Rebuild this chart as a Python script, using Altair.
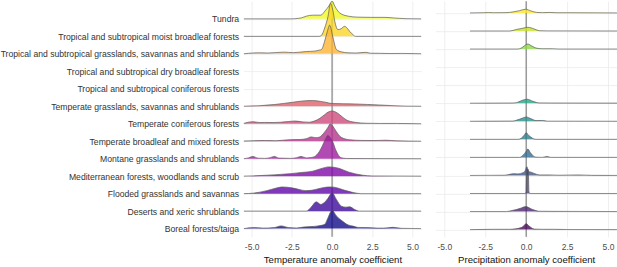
import altair as alt
import pandas as pd

# Row labels, top to bottom
categories = [
    "Tundra",
    "Tropical and subtropical moist broadleaf forests",
    "Tropical and subtropical grasslands, savannas and shrublands",
    "Tropical and subtropical dry broadleaf forests",
    "Tropical and subtropical coniferous forests",
    "Temperate grasslands, savannas and shrublands",
    "Temperate coniferous forests",
    "Temperate broadleaf and mixed forests",
    "Montane grasslands and shrublands",
    "Mediterranean forests, woodlands and scrub",
    "Flooded grasslands and savannas",
    "Deserts and xeric shrublands",
    "Boreal forests/taiga",
]

# plasma(13) / viridis(13), top row = last colour
plasma_cols = ["#F0F921", "#FBD524", "#FDB42F", "#F89540", "#ED7953", "#DE5F65", "#CC4778",
               "#B52F8C", "#9C179E", "#7E03A8", "#5C01A6", "#3A049A", "#0D0887"]
viridis_cols = ["#FDE725", "#C7E020", "#8FD744", "#5DC863", "#35B779", "#20A486", "#21908C",
                "#287C8E", "#31688E", "#3B528B", "#443A83", "#481F70", "#440154"]

# Temperature anomaly coefficient: ridge profiles (x, density height)
temp_tundra_x = [-5.5, -2.6, -2.1, -1.9, -1.6, -1.2, -0.7, -0.45, -0.15, 0.0, 0.17, 0.47, 1.0, 1.6, 2.4, 3.3, 3.9, 4.6, 5.55]
temp_tundra_d = [0, 0, 0.5, 1, 2.7, 3.7, 3.7, 7.7, 14, 18, 12.7, 6, 2.7, 1.7, 1.5, 1.5, 0.8, 0.2, 0]
temp_moist_x = [-5.5, -0.8, -0.66, -0.46, -0.25, -0.1, 0.05, 0.17, 0.37, 0.55, 0.78, 0.95, 1.09, 1.3, 1.45, 5.55]
temp_moist_d = [0, 0, 1, 8.3, 20, 33, 26, 15, 6.7, 7.5, 10, 8, 5, 1.7, 0, 0]
temp_tgrass_x = [-5.5, -5.2, -4.6, -4.0, -3.0, -2.4, -1.6, -1.1, -0.8, -0.66, -0.46, -0.3, -0.15, 0.06, 0.27, 0.58, 1.0, 1.5, 2.1, 2.4, 3.0, 3.6, 4.4, 5.55]
temp_tgrass_d = [0, 0.5, 1, 0.8, 1.7, 1.2, 2.3, 2.7, 3.7, 4.3, 12.7, 22, 28.7, 16, 4.3, 2, 1, 0.8, 1.5, 0.6, 0.5, 0.3, 0.4, 0.1]
temp_mgrass_x = [-5.5, -4.5, -3.6, -2.45, -1.8, -1.2, -0.7, -0.4, 0.0, 0.7, 1.4, 2.2, 2.9, 3.8, 4.6, 5.55]
temp_mgrass_d = [0, 0.6, 1.7, 4, 5.3, 5.7, 4.8, 4, 2.7, 2.5, 2.3, 1.8, 1.3, 0.6, 0.1, 0]
temp_mconif_x = [-5.5, -4.93, -4.5, -4.2, -3.6, -3.2, -2.7, -2.3, -1.8, -1.4, -1.1, -0.75, -0.47, -0.2, 0.04, 0.25, 0.45, 0.87, 1.4, 2.1, 3.0, 4.0, 5.55]
temp_mconif_d = [0.3, 2, 1.2, 1.3, 1.2, 1.5, 2.2, 2.7, 1.8, 1.5, 2.7, 5.5, 9, 12, 12.7, 11.5, 9.3, 4, 1.5, 0.5, 0.3, 0.3, 0]
temp_broad_x = [-5.5, -4.2, -3.5, -2.65, -2.0, -1.6, -1.3, -1.0, -0.8, -0.47, -0.25, -0.12, 0.05, 0.25, 0.56, 1.07, 1.8, 2.6, 3.35, 4.0, 5.55]
temp_broad_d = [0.2, 0.7, 0.5, 1.5, 1.7, 2.5, 4.3, 3.5, 4, 9, 14, 17.3, 15, 10, 4, 1.5, 0.8, 0.7, 1, 0.4, 0]
temp_montane_x = [-5.5, -5.2, -4.93, -4.6, -4.2, -3.85, -3.59, -3.3, -2.6, -2.2, -1.93, -1.6, -1.3, -1.1, -0.8, -0.6, -0.4, -0.27, -0.1, 0.04, 0.25, 0.56, 0.9, 5.55]
temp_montane_d = [0, 0.8, 2.3, 0.5, 0.3, 1, 2.3, 0.6, 0.3, 1, 2.3, 0.8, 1.2, 2, 7, 13, 20, 23.3, 21, 17, 8, 1, 0.2, 0]
temp_med_x = [-5.5, -4.9, -4.0, -3.2, -2.6, -1.9, -1.2, -0.7, -0.2, 0.4, 1.05, 1.9, 2.5, 5.55]
temp_med_d = [0, 0.3, 1, 1.8, 2.5, 3.7, 5, 7.5, 9.3, 8, 4, 1, 0.2, 0]
temp_flood_x = [-5.5, -4.9, -4.06, -3.5, -3.1, -2.5, -2.0, -1.65, -1.3, -0.7, -0.2, 0.1, 0.8, 1.3, 1.8, 5.55]
temp_flood_d = [0, 0.5, 3, 5.5, 6.7, 5.8, 4, 3, 3.3, 5.5, 6.7, 6.5, 3.3, 1.2, 0, 0]
temp_desert_x = [-5.5, -1.6, -1.3, -0.98, -0.7, -0.5, -0.25, 0.0, 0.27, 0.58, 0.85, 1.1, 1.4, 1.7, 5.55]
temp_desert_d = [0, 0, 4, 9.3, 6.7, 8.3, 13, 18.3, 11.7, 5, 4, 4.3, 1.7, 0, 0]
temp_boreal_x = [-5.5, -4.83, -4.3, -3.6, -3.17, -2.7, -2.2, -1.8, -1.3, -0.87, -0.46, -0.25, 0.0, 0.27, 0.58, 1.0, 1.3, 1.6, 2.2, 2.8, 3.2, 3.8, 4.3, 5.55]
temp_boreal_d = [0, 1, 0.5, 1, 2.7, 1, 0.6, 1.5, 2, 2.7, 4.3, 11, 18.3, 12.7, 8.3, 3.7, 2.5, 1.2, 1, 0.5, 0.5, 1.3, 0.3, 0]

# Precipitation anomaly coefficient: ridge profiles
prec_tundra_x = [-3.43, -2.6, -2.3, -2.0, -1.23, -0.8, -0.4, -0.04, 0.3, 0.65, 1.0, 1.45, 1.9, 2.5, 5.55]
prec_tundra_d = [0, 0.2, 0.4, 0.2, 0.3, 1, 2.3, 3.7, 2, 0.5, 0.3, 0.5, 0.2, 0.2, 0]
prec_moist_x = [-3.43, -1.0, -0.6, -0.2, 0.1, 0.5, 0.8, 1.3, 5.55]
prec_moist_d = [0, 0, 1.5, 2.8, 3.7, 2, 0.3, 0.1, 0]
prec_tgrass_x = [-3.43, -0.5, -0.3, 0.1, 0.35, 0.6, 1.0, 1.6, 2.0, 5.55]
prec_tgrass_d = [0, 0, 1, 5, 3, 1, 0.3, 0.3, 0, 0]
prec_mgrass_x = [-3.43, -0.8, -0.6, -0.3, 0.06, 0.4, 0.8, 1.5, 5.55]
prec_mgrass_d = [0, 0.2, 0.5, 2.5, 4, 2, 0.3, 0.2, 0.1]
prec_mconif_x = [-3.43, -0.8, -0.6, -0.25, 0.0, 0.3, 0.6, 1.0, 1.3, 5.55]
prec_mconif_d = [0, 0.2, 1, 3, 4.3, 2.5, 0.7, 0.8, 0.1, 0]
prec_broad_x = [-3.43, -0.5, -0.3, -0.1, 0.0, 0.15, 0.3, 0.6, 5.55]
prec_broad_d = [0, 0, 1, 4.5, 6.7, 4, 2, 0, 0]
prec_montane_x = [-3.43, -0.4, -0.2, 0.0, 0.1, 0.25, 0.4, 0.6, 1.0, 1.27, 1.5, 5.55]
prec_montane_d = [0, 0, 2, 6, 8.3, 5, 2, 0.2, 0, 1, 0, 0]
prec_med_x = [-3.43, -1.3, -0.8, -0.5, -0.2, -0.05, 0.04, 0.15, 0.3, 0.5, 0.8, 1.4, 2.0, 3.2, 4.0, 5.55]
prec_med_d = [0, 0.2, 1.7, 1.5, 2.7, 5, 8.7, 4, 3.3, 2, 0.5, 0.5, 0.2, 0.5, 0.1, 0]
prec_flood_x = [-3.43, -0.05, 0.0, 0.04, 0.13, 0.17, 0.22, 5.55]
prec_flood_d = [0, 0, 2, 24, 24, 2, 0, 0]
prec_desert_x = [-3.43, -1.2, -1.0, -0.6, -0.3, -0.04, 0.4, 0.8, 1.5, 5.55]
prec_desert_d = [0, 0, 0.5, 2, 3.5, 5, 2, 0.3, 0.2, 0]
prec_boreal_x = [-3.43, -2.0, -1.0, -0.3, -0.1, 0.0, 0.15, 0.3, 0.5, 1.0, 1.7, 2.5, 5.55]
prec_boreal_d = [0, 0.3, 0.3, 2, 4.5, 6, 4, 2, 0.5, 0.3, 0.3, 0.1, 0]

temp_rows = {
    0: (temp_tundra_x, temp_tundra_d), 1: (temp_moist_x, temp_moist_d), 2: (temp_tgrass_x, temp_tgrass_d),
    5: (temp_mgrass_x, temp_mgrass_d), 6: (temp_mconif_x, temp_mconif_d), 7: (temp_broad_x, temp_broad_d),
    8: (temp_montane_x, temp_montane_d), 9: (temp_med_x, temp_med_d), 10: (temp_flood_x, temp_flood_d),
    11: (temp_desert_x, temp_desert_d), 12: (temp_boreal_x, temp_boreal_d),
}
prec_rows = {
    0: (prec_tundra_x, prec_tundra_d), 1: (prec_moist_x, prec_moist_d), 2: (prec_tgrass_x, prec_tgrass_d),
    5: (prec_mgrass_x, prec_mgrass_d), 6: (prec_mconif_x, prec_mconif_d), 7: (prec_broad_x, prec_broad_d),
    8: (prec_montane_x, prec_montane_d), 9: (prec_med_x, prec_med_d), 10: (prec_flood_x, prec_flood_d),
    11: (prec_desert_x, prec_desert_d), 12: (prec_boreal_x, prec_boreal_d),
}

FONT = "Liberation Sans"
n = len(categories)
names_bottom_up = list(reversed(categories))
label_expr = "[" + ",".join("'" + c + "'" for c in names_bottom_up) + "][datum.value]"
x_label_expr = "replace(format(datum.value, '.1f'), '\u2212', '-')"


def panel(rows, cols, xdom, ydom, px_per_row, width, title, show_labels):
    xenc = alt.X("x:Q", scale=alt.Scale(domain=xdom, nice=False, zero=False),
                 axis=alt.Axis(values=[-5, -2.5, 0, 2.5, 5], labelExpr=x_label_expr, title=title,
                               grid=True, ticks=False, domain=False, labelPadding=6, titlePadding=3,
                               labelColor="#4d4d4d"))
    yaxis = alt.Axis(values=list(range(n)), grid=True, ticks=False, domain=False, title=None,
                     labels=show_labels, labelExpr=label_expr, labelPadding=5, labelLimit=0,
                     labelFontSize=8.65, labelColor="#333333")
    yscale = alt.Scale(domain=ydom, nice=False, zero=False)
    zero = alt.Chart(pd.DataFrame({"x": [0.0]})).mark_rule(color="#6b6b6b", strokeWidth=1).encode(
        x=xenc)
    layers = [zero]
    for i in range(n):
        if i not in rows:
            continue
        xs, ds = rows[i]
        base = n - 1 - i
        df = pd.DataFrame({"x": xs, "d": ds})
        df["base"] = base
        df["top"] = base + df["d"] / px_per_row
        area = alt.Chart(df).mark_area(interpolate="monotone", color=cols[i], fillOpacity=0.78,
                                       clip=True).encode(
            x=xenc, y=alt.Y("top:Q", scale=yscale, axis=yaxis), y2="base:Q")
        line = alt.Chart(df).mark_line(interpolate="monotone", color="#5a5a5a", strokeWidth=0.7,
                                       clip=True).encode(
            x=xenc, y=alt.Y("top:Q", scale=yscale, axis=yaxis))
        layers += [area, line]
    return alt.layer(*layers).properties(width=width, height=236)


left = panel(temp_rows, plasma_cols, [-5.5, 5.55], [-0.47, 13.01], 17.5, 178,
             "Temperature anomaly coefficient", True)
right = panel(prec_rows, viridis_cols, [-5.55, 5.55], [-0.40, 12.65], 18.08, 182,
              "Precipitation anomaly coefficient", False)

chart = alt.hconcat(left, right, spacing=14).properties(padding=0, background="white").configure_view(
    stroke=None
).configure_axis(
    labelFont=FONT, titleFont=FONT, labelFontSize=8.5, titleFontSize=9.6,
    titleColor="#111111", titleFontWeight="normal", gridColor="#ebebeb", gridWidth=0.8
)

chart.save("out.html", embed_options={"renderer": "svg", "actions": False})
